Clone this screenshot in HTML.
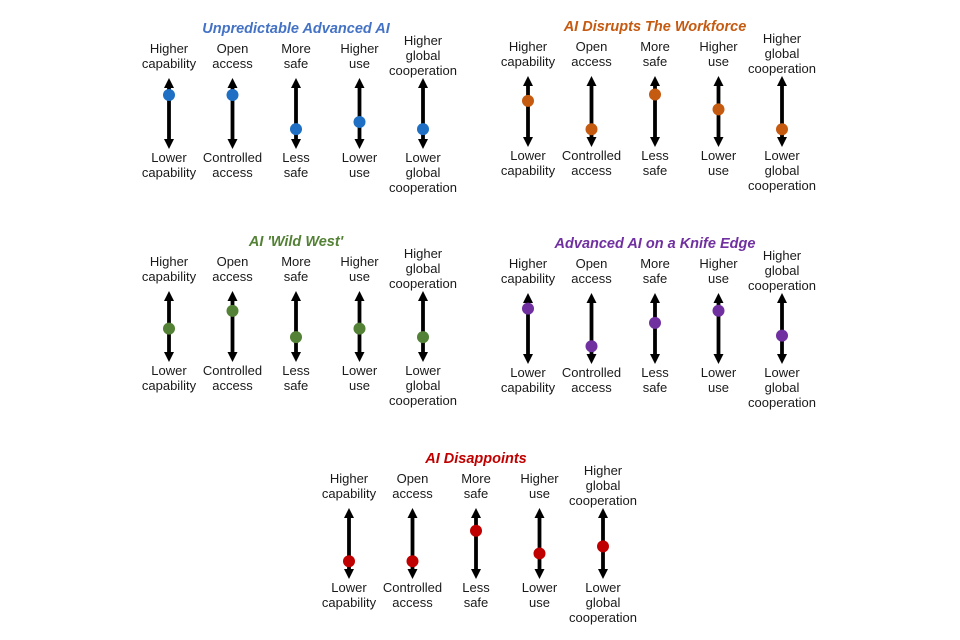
<!DOCTYPE html>
<html><head><meta charset="utf-8"><style>
html,body{margin:0;padding:0;background:#fff;}
svg{display:block;font-family:"Liberation Sans",sans-serif;}
</style></head><body>
<svg id="chart" width="960" height="640" viewBox="0 0 960 640"></svg>
<script>
const titles = ["Unpredictable Advanced AI","AI Disrupts The Workforce","AI 'Wild West'","Advanced AI on a Knife Edge","AI Disappoints"];
const colors = ["#1f6fc4","#c55a11","#538135","#7030a0","#c00000"];
const titleColors = ["#4472c4","#c55a11","#538135","#7030a0","#c00000"];
const topLabels = [["Higher","capability"],["Open","access"],["More","safe"],["Higher","use"],["Higher","global","cooperation"]];
const bottomLabels = [["Lower","capability"],["Controlled","access"],["Less","safe"],["Lower","use"],["Lower","global","cooperation"]];
const valuesP1 = [0.76,0.76,0.28,0.38,0.28];
const valuesP2 = [0.65,0.25,0.74,0.53,0.25];
const valuesP3 = [0.47,0.72,0.35,0.47,0.35];
const valuesP4 = [0.78,0.25,0.58,0.75,0.40];
const valuesP5 = [0.25,0.25,0.68,0.36,0.46];
const allValues = [valuesP1,valuesP2,valuesP3,valuesP4,valuesP5];
const panelNames = ["unpredictable-advanced-ai","ai-disrupts-the-workforce","ai-wild-west","advanced-ai-knife-edge","ai-disappoints"];

const layout = [
  {x0:169, top:78},
  {x0:528, top:76},
  {x0:169, top:291},
  {x0:528, top:293},
  {x0:349, top:508}
];
const spacing = 63.5, len = 71;
const NS = "http://www.w3.org/2000/svg";
const svg = document.getElementById('chart');
function mk(tag, attrs, parent){const e=document.createElementNS(NS,tag);for(const k in attrs)e.setAttribute(k,attrs[k]);parent.appendChild(e);return e;}
function yScale(top,v){return top+len-v*len;}

allValues.forEach((vals,p)=>{
  const L=layout[p];
  const g=mk('g',{},svg);
  
  
  const t=mk('text',{x:L.x0+2*spacing,y:L.top-45,'text-anchor':'middle','font-size':'14.5','font-weight':'bold','font-style':'italic',fill:titleColors[p]},g);
  t.textContent=titles[p];
  
  
  vals.forEach((v,i)=>{
    const x=L.x0+i*spacing, T=L.top, B=L.top+len;
    const a=mk('g',{},g);
    
    
    mk('line',{x1:x,y1:T+6,x2:x,y2:B-6,stroke:'#000','stroke-width':3.8},a);
    mk('polygon',{points:`${x},${T} ${x-5},${T+10} ${x+5},${T+10}`,fill:'#000'},a);
    mk('polygon',{points:`${x},${B} ${x-5},${B-10} ${x+5},${B-10}`,fill:'#000'},a);
    const tl=topLabels[i];
    tl.forEach((s,k)=>{
      const tx=mk('text',{x:x,y:T-10-(tl.length-1-k)*15-(tl.length===3?-7:0),'text-anchor':'middle','font-size':'13',fill:'#1a1a1a'},a);
      tx.textContent=s;
    });
    bottomLabels[i].forEach((s,k)=>{
      const tx=mk('text',{x:x,y:B+13+k*15,'text-anchor':'middle','font-size':'13',fill:'#1a1a1a'},a);
      tx.textContent=s;
    });
    const c=mk('circle',{cx:x,cy:yScale(T,v),r:6,fill:colors[p]},a);
    
    
  });
});
</script>
</body></html>
